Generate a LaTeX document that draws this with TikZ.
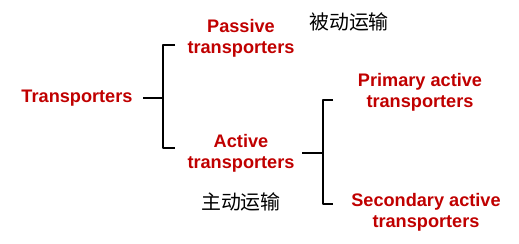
\documentclass[tikz,border=0pt]{standalone}
\usepackage{fontspec}
\setmainfont{Liberation Sans}
\newfontfamily\cjk{Noto Sans CJK SC}
\usetikzlibrary{positioning}
\definecolor{tred}{RGB}{192,0,0}

\begin{document}
\begin{tikzpicture}[x=0.03cm,y=-0.03cm,
  lab/.style={text=tred,font=\bfseries\fontsize{15.5}{18}\selectfont,align=center,inner sep=0pt},
  cn/.style={font=\cjk\fontsize{17}{18}\selectfont,inner sep=0pt},
  brk/.style={line width=1.5pt,line join=round}]
\useasboundingbox (0,0) rectangle (519,243);
\node[lab] (T) at (77,98) {Transporters};
\node[lab] (P) at ([shift={+(164,-60)}]T) {Passive\\transporters};
\node[lab] (A) at ([shift={+(0,115)}]P) {Active\\transporters};
\node[cn] (Pc) at ([shift={+(108,-16)}]P) {被动运输};
\node[cn] (Ac) at ([shift={+(0,49)}]A) {主动运输};
\node[lab] (PA) at ([shift={+(179,-61)}]A) {Primary active\\transporters};
\node[lab] (SA) at ([shift={+(6,120)}]PA) {Secondary active\\transporters};

% first bracket
\coordinate (T1) at (143,98);
\coordinate (T2) at (163,98);
\coordinate (P1) at (163,45);
\coordinate (P2) at (175,45);
\coordinate (A1) at (163,148);
\coordinate (A2) at (175,148);
\draw[brk] (T1)--(T2);
\draw[brk] (P2)--(P1)--(A1)--(A2);

% second bracket
\coordinate (A3) at (302,153);
\coordinate (A4) at (323,153);
\coordinate (PA1) at (323,100);
\coordinate (PA2) at (333,100);
\coordinate (SA1) at (323,204);
\coordinate (SA2) at (333,204);
\draw[brk] (A3)--(A4);
\draw[brk] (PA2)--(PA1)--(SA1)--(SA2);
\end{tikzpicture}
\end{document}
